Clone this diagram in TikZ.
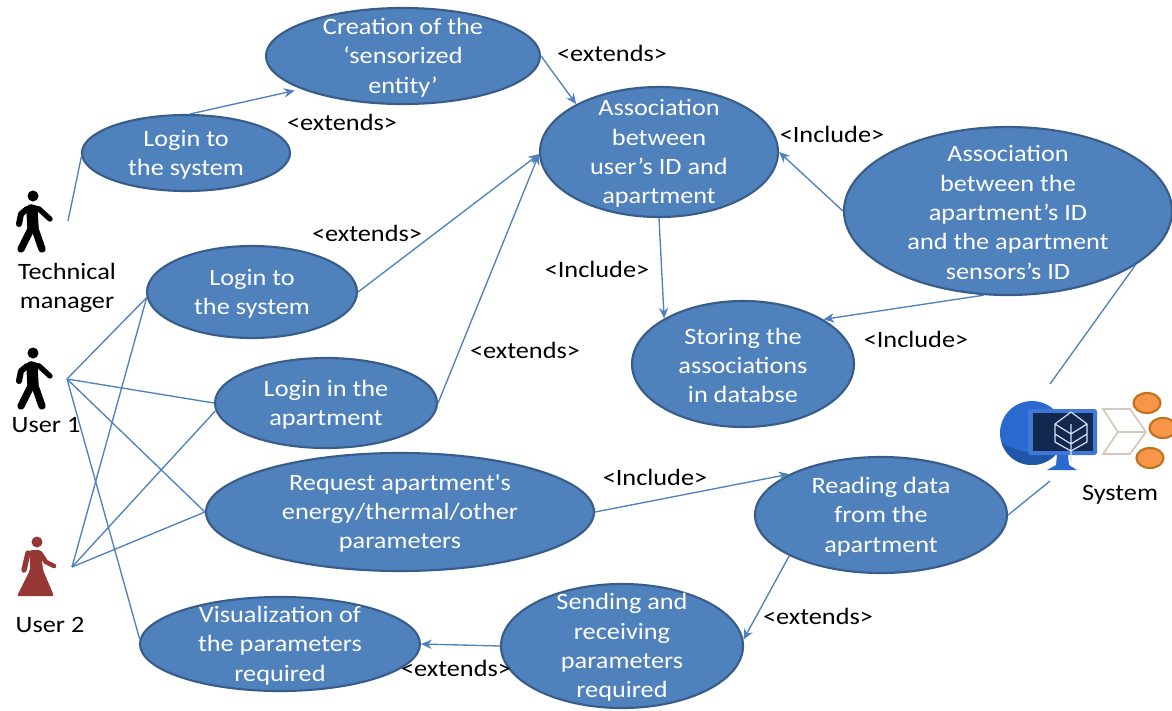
\documentclass[tikz,border=0pt]{standalone}
\usepackage{fontspec}
\setmainfont[FakeStretch=1.12,Ligatures=TeXOff]{Carlito}
\usetikzlibrary{shapes.geometric,arrows.meta}
\definecolor{ucfill}{HTML}{4F81BD}
\definecolor{ucedge}{HTML}{385D8A}
\definecolor{linkc}{HTML}{4F81BD}
\definecolor{redp}{HTML}{953735}
\definecolor{globe}{HTML}{2A6AD0}
\definecolor{globed}{HTML}{1F56A8}
\definecolor{navy}{HTML}{12284F}
\definecolor{chev}{HTML}{D9C7BE}
\definecolor{orng}{HTML}{F79646}
\definecolor{orngd}{HTML}{C0701F}
\tikzset{
  x=0.75pt,y=-0.75pt,
  uc/.style={ellipse,draw=ucedge,line width=1.6pt,fill=ucfill,inner sep=0pt},
  uctext/.style={text=white,align=center,font=\fontsize{17.6}{22}\selectfont,inner sep=0pt,yshift=-1.2pt},
  lab/.style={text=black,font=\fontsize{17.6}{22}\selectfont,inner sep=0pt,align=center},
  link/.style={draw=linkc,line width=1pt},
  arr/.style={link,-{Stealth[length=8pt,width=7pt]}},
}
\newcommand{\walker}[1]{%
  \fill[#1] (33,196) circle (5.5);
  \draw[#1,line width=8.5pt,line cap=round,line join=round] (32,210) -- (33,228);
  \draw[#1,line width=4.5pt,line cap=round,line join=round] (27,209) -- (21,214) -- (19,224);
  \draw[#1,line width=4pt,line cap=round,line join=round] (30,207) -- (39,209) -- (50,219);
  \draw[#1,line width=5.5pt,line cap=round,line join=round] (31,229) -- (21,249);
  \draw[#1,line width=5.5pt,line cap=round,line join=round] (35,229) -- (42,249);
}
\begin{document}
\begin{tikzpicture}
\useasboundingbox (0,0) rectangle (1172,711);
\fill[white] (0,0) rectangle (1172,711);
% use cases
\node[uc,minimum width=274*0.75pt,minimum height=96*0.75pt,label={[uctext]center:{Creation of the\\‘sensorized\\entity’}}] (create) at (403,56) {};
\node[uc,minimum width=208*0.75pt,minimum height=76*0.75pt,label={[uctext]center:{Login to\\the system}}] (logintm) at (186,153) {};
\node[uc,minimum width=238*0.75pt,minimum height=130*0.75pt,label={[uctext]center:{Association\\between\\user’s ID and\\apartment}}] (assoc) at (659,152) {};
\node[uc,minimum width=328*0.75pt,minimum height=168*0.75pt,label={[uctext]center:{Association\\between the\\apartment’s ID\\and the apartment\\sensors’s ID}}] (assocb) at (1008,211) {};
\node[uc,minimum width=210*0.75pt,minimum height=92*0.75pt,label={[uctext]center:{Login to\\the system}}] (loginu) at (252,292) {};
\node[uc,minimum width=222*0.75pt,minimum height=90*0.75pt,label={[uctext]center:{Login in the\\apartment}}] (loginapt) at (326,403) {};
\node[uc,minimum width=222*0.75pt,minimum height=126*0.75pt,label={[uctext]center:{Storing the\\associations\\in databse}}] (store) at (743,364) {};
\node[uc,minimum width=388*0.75pt,minimum height=118*0.75pt,label={[uctext]center:{Request apartment's\\energy/thermal/other\\parameters}}] (request) at (400,512) {};
\node[uc,minimum width=252*0.75pt,minimum height=116*0.75pt,label={[uctext]center:{Reading data\\from the\\apartment}}] (reading) at (881,515) {};
\node[uc,minimum width=242*0.75pt,minimum height=124*0.75pt,label={[uctext]center:{Sending and\\receiving\\parameters\\required}}] (sending) at (622,646) {};
\node[uc,minimum width=280*0.75pt,minimum height=94*0.75pt,label={[uctext]center:{Visualization of\\the parameters\\required}}] (visual) at (280,644) {};
% hubs
\coordinate (tm) at (68,221);
\coordinate (ua) at (67,379);
\coordinate (ub) at (72,567);
\coordinate (sysa) at (1050,384);
\coordinate (sysb) at (1050,481);
% connectors
\draw[link] (tm) -- (logintm.182);
\draw[arr,shorten >=5pt] (logintm.84) -- (create.198);
\draw[arr] (create.east) -- (assoc.150);
\draw[arr] (loginu.east) -- (assoc.181);
\draw[arr] (loginapt.east) -- (assoc.181);
\draw[arr] (assocb.180) -- (assoc.east);
\draw[arr] (assoc.south) -- (store.150);
\draw[arr] (assocb.254) -- (store.29);
\draw[arr] (request.east) -- (reading.156);
\draw[arr] (reading.204) -- (sending.3);
\draw[arr] (sending.west) -- (visual.east);
\draw[link] (reading.east) -- (sysb);
\draw[link] (assocb.-23) -- (sysa);
\draw[link] (ua) -- (loginu.183);
\draw[link] (ua) -- (loginapt.west);
\draw[link] (ua) -- (request.west);
\draw[link] (ua) -- (visual.178);
\draw[link] (ub) -- (loginu.183);
\draw[link] (ub) -- (loginapt.184);
\draw[link] (ub) -- (request.west);
% labels
\node[lab] (l1) at (612,53) {<extends>};
\node[lab] (l2) at (342,122) {<extends>};
\node[lab] (l3) at (367,233) {<extends>};
\node[lab] (l4) at (525,350) {<extends>};
\node[lab] (l5) at (832,134) {<Include>};
\node[lab] (l6) at (597,269) {<Include>};
\node[lab] (l7) at (916,339) {<Include>};
\node[lab] (l8) at (655,477) {<Include>};
\node[lab] (l9) at (818,616) {<extends>};
\node[lab] (l10) at (456,668) {<extends>};
\node[lab] (a1) at (67,288) {Technical\\manager};
\node[lab] (a2) at (46,425) {User 1};
\node[lab] (a3) at (50,625) {User 2};
\node[lab] (a4) at (1120,495) {System};
% actors
\walker{black}
\begin{scope}[yshift=-157*0.75pt]\walker{black}\end{scope}
\fill[redp] (37,542) circle (5.5);
\fill[redp,rounded corners=1.5pt] (30,550) -- (41,550) -- (43,570) -- (54,596) -- (17,596) -- (30,570) -- cycle;
\draw[redp,line width=4pt,line cap=round] (28,553) -- (24,570);
\draw[redp,line width=3.5pt,line cap=round] (40,553) -- (46,562) -- (54,566);
% system icon
\fill[globe] (1032,433) circle (32);
\begin{scope}
  \clip (1032,433) circle (32);
  \fill[globed] (1000,442) .. controls (1015,452) and (1040,456) .. (1064,452) -- (1064,470) -- (1000,470) -- cycle;
\end{scope}
\fill[globe!90!white,rounded corners=2pt] (1028,409) rectangle (1097,455);
\fill[navy] (1033,413) rectangle (1093,451);
\fill[globe] (1057,455) -- (1068,455) -- (1069,465) -- (1077,470) -- (1047,470) -- (1056,465) -- cycle;
\draw[white!80!globe,line width=0.9pt,line join=round] (1071,412) -- (1087,424) -- (1087,442) -- (1071,451) -- (1055,442) -- (1055,424) -- cycle (1055,424) -- (1071,434) -- (1087,424) (1055,434) -- (1071,444) -- (1087,434) (1071,424) -- (1071,462);
\draw[chev,line width=1.3pt,line join=miter] (1103,409) -- (1130,409) -- (1146,432) -- (1130,454) -- (1103,454) -- (1118,432) -- cycle (1118,432) -- (1146,432);
\foreach \cx/\cy in {1147/403,1163/428,1150/458}{
  \draw[orngd,fill=orng,line width=1.6pt] (\cx,\cy) ellipse[x radius=13.5,y radius=10];
}
\end{tikzpicture}
\end{document}
